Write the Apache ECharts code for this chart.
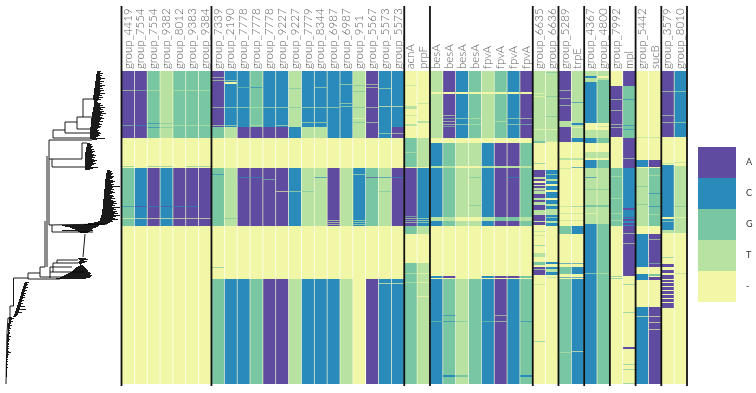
<!DOCTYPE html>
<html><head><meta charset="utf-8">
<style>html,body{margin:0;padding:0;background:#fff}#c{width:756px;height:393px;filter:blur(0.35px)}</style>
<script src="https://cdn.jsdelivr.net/npm/echarts@6/dist/echarts.min.js"></script>
</head><body><div id="c"></div>
<script>
// Legend and colours
const baseCodes = ['A','C','G','T','-'];
const baseColors = {A:'#5f4ca0',C:'#2a8bbb',G:'#79c6a3',T:'#b8e2a1','-':'#f1f7a6'};
const columnLabels = ['group_4419','group_7554','group_7554','group_9382','group_8012','group_9383','group_9384',
 'group_7339','group_2190','group_7778','group_7778','group_7778','group_9227','group_9227','group_7779','group_8344','group_6987','group_6987','group_951','group_5567','group_5573','group_5573',
 'acnA','prpF','besA','besA','besA','besA','fpvA','fpvA','fpvA','fpvA',
 'group_6635','group_6636','group_5289','trpE','group_4367','group_4800','group_7992','mpl','group_5442','sucB','group_3579','group_8010'];
// boundaries between gene groups, as number of columns to the left
const groupBoundaries = [0,7,22,24,32,34,36,38,40,42,44];
const rowCount = 313;

// Each column: runs of isolates [firstRow, lastRow, base]; later runs overlay earlier ones
const c_4419=[[0,67,'A'],[19,20,'T'],[54,55,'G'],[95,96,'G'],[97,155,'G'],[135,136,'C'],[147,148,'-']];
const c_7554a=[[0,67,'A'],[19,20,'G'],[54,55,'C'],[97,155,'C'],[135,136,'A'],[147,148,'-']];
const c_7554b=[[0,67,'G'],[19,20,'T'],[52,53,'C'],[56,57,'C'],[95,96,'G'],[97,155,'A'],[135,136,'C'],[147,148,'-']];
const c_9382=[[0,67,'T'],[52,53,'G'],[56,57,'G'],[95,96,'G'],[97,155,'C'],[135,136,'A'],[147,148,'-']];
const c_8012=[[0,67,'G'],[19,20,'T'],[54,55,'T'],[97,155,'A'],[135,136,'C'],[147,148,'-']];
const c_9383=[[0,67,'G'],[19,20,'T'],[54,55,'T'],[95,96,'G'],[97,155,'A'],[135,136,'C'],[147,148,'-']];
const c_9384=[[0,67,'G'],[19,20,'T'],[54,55,'T'],[95,96,'G'],[97,155,'A'],[147,148,'-']];

const c_7339=[[0,56,'A'],[6,7,'T'],[9,10,'T'],[36,37,'T'],[54,55,'T'],[56,67,'G'],[97,155,'G'],[103,104,'C'],[196,197,'G'],[208,313,'G']];
const c_2190=[[0,56,'C'],[11,13,'-'],[9,10,'T'],[36,37,'T'],[54,55,'T'],[56,67,'T'],[97,155,'T'],[147,148,'G'],[208,313,'C']];
const c_7778a=[[0,56,'C'],[16,17,'G'],[36,37,'T'],[56,67,'A'],[97,155,'A'],[106,107,'C'],[208,313,'C']];
const c_7778b=[[0,56,'G'],[16,17,'C'],[36,37,'T'],[54,55,'T'],[56,67,'A'],[97,155,'A'],[106,107,'C'],[208,313,'G']];
const c_7778c=[[0,56,'C'],[36,37,'T'],[56,67,'A'],[97,155,'A'],[108,109,'G'],[208,313,'A']];
const c_9227a=[[0,56,'C'],[36,37,'T'],[54,55,'T'],[56,67,'A'],[97,155,'A'],[120,121,'-'],[208,313,'A']];
const c_9227b=[[0,56,'T'],[17,18,'G'],[36,37,'G'],[56,67,'C'],[97,155,'C'],[120,121,'T'],[208,313,'T']];
const c_7779=[[0,56,'C'],[36,37,'T'],[51,52,'T'],[56,67,'T'],[97,155,'T'],[120,121,'G'],[208,313,'C']];
const c_8344=[[0,56,'C'],[16,17,'T'],[36,37,'T'],[51,52,'T'],[56,67,'T'],[97,155,'T'],[106,107,'C'],[208,313,'C']];
const c_6987a=[[0,56,'C'],[36,37,'T'],[56,67,'C'],[97,155,'A'],[149,150,'T'],[151,152,'T'],[153,154,'T'],[208,313,'C']];
const c_6987b=[[0,56,'C'],[13,14,'T'],[32,33,'T'],[35,36,'T'],[56,67,'C'],[97,155,'T'],[208,313,'T']];
const c_951=[[0,56,'T'],[14,15,'G'],[20,21,'G'],[36,37,'G'],[47,48,'-'],[51,52,'G'],[56,67,'T'],[97,155,'C'],[103,104,'T'],[149,150,'T'],[151,152,'T'],[153,154,'T']];
const c_5567=[[0,56,'A'],[13,14,'T'],[16,17,'T'],[36,37,'T'],[51,52,'T'],[56,67,'A'],[97,155,'G'],[106,107,'A'],[208,313,'A']];
const c_5573a=[[0,56,'C'],[17,18,'T'],[35,36,'-'],[56,67,'C'],[62,63,'T'],[97,155,'T'],[106,107,'C'],[120,121,'G'],[208,313,'C'],[212,213,'-']];
const c_5573b=[[0,56,'C'],[35,36,'-'],[56,67,'A'],[62,63,'T'],[97,155,'A'],[106,107,'C'],[208,313,'C'],[212,213,'-']];

const c_acnA=[[14,15,'T'],[35,38,'T'],[44,45,'T'],[53,55,'T'],[67,96,'G'],[81,82,'T'],[97,155,'A'],[145,146,'G'],[147,148,'T'],[149,150,'G'],[151,152,'T'],[155,163,'G'],[192,313,'G'],[202,203,'T'],[211,212,'T']];
const c_prpF=[[32,33,'T'],[50,52,'T'],[67,96,'T'],[97,155,'C'],[147,148,'T'],[149,150,'T'],[151,152,'T'],[155,163,'T'],[192,313,'T'],[202,203,'-'],[211,212,'-'],[225,226,'-']];
const c_besAa=[[0,67,'T'],[21,23,'-'],[72,95,'C'],[95,97,'T'],[97,146,'C'],[146,150,'T'],[150,155,'C'],[205,207,'C'],[208,313,'C'],[250,251,'G']];
const c_besAb=[[0,67,'A'],[21,23,'-'],[44,45,'T'],[47,48,'G'],[50,51,'T'],[53,54,'T'],[55,56,'G'],[72,95,'G'],[95,97,'T'],[97,146,'G'],[146,150,'T'],[150,155,'G'],[205,207,'A'],[208,313,'G'],[244,245,'C'],[250,251,'C'],[304,306,'C']];
const c_besAc=[[0,67,'C'],[21,23,'-'],[47,48,'T'],[53,54,'T'],[72,95,'T'],[95,97,'-'],[97,146,'T'],[150,155,'T'],[208,313,'T'],[250,251,'G'],[304,306,'G']];
const c_besAd=[[0,67,'G'],[21,23,'-'],[47,48,'T'],[53,54,'T'],[72,95,'T'],[95,97,'-'],[97,146,'T'],[106,107,'G'],[134,135,'G'],[150,155,'T'],[208,313,'G']];
const c_fpvAa=[[0,67,'T'],[21,23,'-'],[72,95,'C'],[95,97,'T'],[97,146,'C'],[146,150,'T'],[150,155,'C'],[205,207,'C'],[208,313,'C'],[250,251,'G']];
const c_fpvAb=[[0,67,'G'],[21,23,'-'],[50,51,'T'],[72,95,'A'],[95,97,'T'],[97,146,'A'],[146,150,'G'],[150,155,'A'],[205,207,'A'],[208,313,'A'],[244,245,'T'],[250,251,'T']];
const c_fpvAc=[[0,67,'C'],[21,23,'-'],[47,48,'T'],[53,54,'T'],[72,95,'A'],[95,97,'T'],[97,146,'A'],[106,107,'C'],[146,150,'G'],[150,155,'A'],[205,207,'A'],[208,313,'C']];
const c_fpvAd=[[0,67,'A'],[21,23,'-'],[47,48,'T'],[53,54,'G'],[72,95,'G'],[95,97,'T'],[97,146,'G'],[146,150,'T'],[150,155,'G'],[205,207,'G'],[208,313,'G'],[250,251,'C'],[304,306,'C']];

const c_6635=[[0,70,'T'],[22,23,'-'],[25,26,'-'],[58,59,'-'],[70,72,'G'],[92,93,'G'],[99,106,'A'],[106,108,'T'],[108,110,'A'],[112,114,'A'],[114,115,'T'],[115,117,'A'],[117,119,'T'],[119,120,'A'],[120,123,'T'],[123,127,'A'],[127,129,'T'],[129,131,'A'],[131,134,'T'],[134,139,'A'],[139,144,'T'],[144,150,'A'],[150,151,'T'],[151,154,'A'],[160,161,'T'],[164,165,'T'],[174,175,'G'],[182,186,'T'],[191,194,'G'],[196,204,'A'],[198,199,'T'],[213,214,'T'],[270,271,'G']];
const c_6636=[[0,70,'T'],[1,2,'G'],[25,26,'G'],[45,46,'G'],[58,59,'-'],[70,71,'T'],[99,108,'C'],[103,104,'T'],[108,110,'T'],[110,113,'C'],[113,115,'-'],[115,119,'C'],[119,121,'-'],[121,127,'C'],[127,129,'-'],[129,133,'C'],[133,135,'T'],[135,138,'C'],[138,144,'T'],[144,150,'C'],[146,147,'T'],[150,152,'T'],[152,155,'C'],[191,193,'C'],[196,198,'C'],[198,201,'T'],[201,204,'C'],[206,207,'T']];
const c_5289=[[0,71,'A'],[19,20,'T'],[27,28,'T'],[34,35,'T'],[50,56,'T'],[87,89,'T'],[97,98,'T'],[135,136,'T'],[142,143,'T'],[149,150,'T'],[155,163,'G'],[192,193,'C'],[196,203,'G'],[206,207,'C'],[208,313,'G'],[281,282,'T']];
const c_trpE=[[0,67,'T'],[31,32,'C'],[52,54,'C'],[56,57,'-'],[67,71,'C'],[87,89,'T'],[96,97,'C'],[135,136,'G'],[142,143,'T'],[149,150,'T'],[155,163,'C'],[192,193,'C'],[196,203,'C'],[206,207,'C'],[208,313,'C'],[280,281,'-']];
const c_4367=[[0,5,'T'],[5,7,'C'],[7,11,'T'],[11,52,'C'],[59,67,'T'],[67,72,'C'],[81,87,'T'],[89,97,'C'],[97,153,'T'],[106,107,'C'],[118,119,'G'],[134,136,'G'],[142,143,'-'],[153,313,'C'],[202,203,'T']];
const c_4800=[[0,5,'T'],[5,7,'-'],[7,9,'T'],[9,11,'G'],[11,52,'G'],[55,56,'T'],[59,67,'T'],[67,72,'G'],[81,87,'T'],[89,97,'G'],[97,140,'T'],[118,119,'G'],[134,136,'G'],[140,153,'T'],[153,313,'G'],[202,203,'T']];
const c_7992=[[15,66,'A'],[28,29,'T'],[39,40,'T'],[53,54,'T'],[56,57,'T'],[97,155,'G'],[105,106,'T'],[127,128,'T'],[142,143,'T'],[149,150,'T'],[205,206,'G'],[207,208,'G']];
const c_mpl=[[0,15,'A'],[15,67,'G'],[28,29,'C'],[54,55,'C'],[58,59,'C'],[67,97,'A'],[87,88,'T'],[97,155,'C'],[137,139,'A'],[146,147,'A'],[148,150,'A'],[152,154,'A'],[155,205,'A'],[162,163,'T'],[172,173,'T'],[213,214,'G'],[241,242,'G'],[276,278,'A'],[293,294,'G'],[298,299,'G'],[312,313,'G']];
const c_5442=[[66,67,'T'],[89,96,'C'],[97,155,'T'],[115,116,'G'],[133,134,'G'],[163,196,'C'],[203,209,'C'],[236,313,'C'],[245,246,'-']];
const c_sucB=[[66,67,'T'],[89,96,'A'],[97,155,'G'],[104,105,'T'],[122,123,'C'],[135,136,'C'],[143,144,'T'],[163,196,'A'],[168,169,'T'],[192,193,'G'],[203,205,'G'],[206,209,'A'],[236,313,'A'],[245,246,'-'],[251,252,'-'],[258,259,'-']];
const c_3579=[[0,66,'A'],[20,21,'T'],[44,45,'T'],[51,52,'T'],[92,93,'T'],[94,162,'C'],[146,148,'-'],[150,151,'T'],[159,162,'T'],[186,187,'G'],[193,196,'A'],[199,202,'A'],[204,208,'A'],[209,211,'A'],[212,215,'A'],[216,219,'A'],[220,223,'A'],[224,227,'A'],[228,231,'A'],[232,237,'A']];
const c_8010=[[0,66,'C'],[20,21,'T'],[51,52,'T'],[91,92,'T'],[95,162,'T'],[135,136,'G'],[146,147,'-'],[202,203,'T']];

const columns=[c_4419,c_7554a,c_7554b,c_9382,c_8012,c_9383,c_9384,c_7339,c_2190,c_7778a,c_7778b,c_7778c,c_9227a,c_9227b,c_7779,c_8344,c_6987a,c_6987b,c_951,c_5567,c_5573a,c_5573b,c_acnA,c_prpF,c_besAa,c_besAb,c_besAc,c_besAd,c_fpvAa,c_fpvAb,c_fpvAc,c_fpvAd,c_6635,c_6636,c_5289,c_trpE,c_4367,c_4800,c_7992,c_mpl,c_5442,c_sucB,c_3579,c_8010];

// Tree: branches [depth0,row0,depth1,row1]
const treeBranches=[[6,313,6.5,285],[6.5,285,7,262],[7,262,8,247],[8,247,10,247],[10,235,10,247],[10,235,13.5,235],[13.5,207,13.5,235],[13.5,207,28,207],[28,202,28,208],[28,202,40,202],[28,208,60,208],
[40,196,40,206],[40,196,45,196],[40,206,62,206],[45,150,45,196],[47,85,47,196],[49,69,49,154],[49,69,92,69],[53,59,53,67],[53,59,65,59],[53,67,90,67],[65,51,65,62],[65,51,77,51],[65,62,90,62],[77,46,77,58],[77,46,83,46],[77,58,90,58],[83,28,83,46],[83,28,93,28],[83,46,92,46],
[49,88,82,88],[52,88,52,96],[52,96,85,96],[82,72,82,88],[82,72,87,72],[49,154,107,153],[52,154,52,161],[52,161,93,161],[85,163,83,186],[57,189,57,192],[57,189,78,189],[53,192,78,192],[53,192,53,201],[50,201,85,201],[50,196,50,207],[50,196,72,196]];
const topCladeFrom=[97,97,97,96,96,96,96,96,96,96,95,95,95,95,95,95,95,94,94,94,94,94,94,94,93,93,93,93,93,94,94,94,94,94,94,94,93,93,93,93,93,92,92,92,92,92,92,91,91,91,91,91,91,91,91,91,90,90,90,90,90,90,90,90,90,90,90,90,92];
const topCladeTo=[101,100,103,100,102,100,101,105,101,100,104,100,102,100,105,102,100,103,100,104,101,100,105,100,102,99,103,99,101,98,97,98,101,100,103,100,105,101,103,100,104,102,106,101,103,100,102,104,101,100,103,99,100,102,99,101,100,98,97,99,98,100,101,99,100,98,96,105,97];
const midCladeFrom=[87,87,87,87,86,86,86,86,86,85,85,85,85,85,85,85,85,85,85,85,85,85,85,85,85,85,85];
const midCladeTo=[90,92,91,93,92,91,94,92,95,93,92,94,96,93,95,92,94,97,95,93,96,94,92,91,98,93,90];
const thirdCladeFrom=[107,107,107,106,106,106,106,106,106,105,105,105,105,105,105,105,105,105,105,104,104,104,104,104,104,104,104,104,104,103,103,103,103,103,103,103,103,103,103,102,102,102,102,102,102,101,101,101,100,100,100,98,94,88,84,62,65,70,72,75,62,78,80];
const thirdCladeTo=[110,112,111,113,112,111,114,113,112,110,113,115,113,111,114,112,120,113,112,114,111,113,115,112,110,113,114,112,115,111,113,116,114,117,113,115,112,120,114,116,113,117,115,118,114,120,116,113,115,118,112,113,110,108,105,99,98,96,93,92,93,90,88];
const lowCladeFrom=[78,79,80,79,78,79,80,80,78,76,75,74,73,72,70,68,66,64,62,60,56];
const lowCladeTo=[86,88,84,87,85,82,81,83,84,85,86,87,88,88,90,91,90,92,91,90,86];
const wedgeFrom=[25,24,24,24,23,23,23,22,22,22,21,21,21,21,20,20,20,19,19,19,18,18,18,17,17,17,16,16,16,15,15,15,14,14,13];
const wedgeTo=[29,27,28,27,26,28,26,25,27,25,24,26,24,25,23,25,23,22,24,22,21,23,21,21,25,20,20,26,19,19,22,18,18,17,16];
const stemFrom=[9,9,9,9,9,9,8,8,8,8,8,8,8,8,8,8,8,7,7,7,7,7,7,7,7,7,7,7,7,7,7,7,7,7,7,7,7,7,7,7,6,6,6,6,6,6,6,6,6,6,6,6,6,6,6,6,6,6,6,6];
const stemTo=[12,14,12,11,13,11,11,10,12,10,10,11,9,10,9,10,10,9,9,11,9,9,10,9,9,8,9,9,8,9,8,9,8,8,9,11,8,9,8,8,8,7,8,7,8,7,7,8,7,7,8,7,7,7,7,7,7,7,7,7];
const cladeStarts={top:0,mid:72,third:99,low:187,wedge:211,stem:246};

// assemble
const cellData=[];
columns.forEach((runs,ci)=>{cellData.push([ci,0,rowCount,4]);runs.forEach(r=>cellData.push([ci,r[0],r[1],baseCodes.indexOf(r[2])]));});
const treeData=treeBranches.slice();
[[topCladeFrom,topCladeTo,cladeStarts.top],[midCladeFrom,midCladeTo,cladeStarts.mid],[thirdCladeFrom,thirdCladeTo,cladeStarts.third],[lowCladeFrom,lowCladeTo,cladeStarts.low],[wedgeFrom,wedgeTo,cladeStarts.wedge],[stemFrom,stemTo,cladeStarts.stem]].forEach(([f,t,s])=>f.forEach((v,i)=>treeData.push([v,s+i+0.5,t[i],s+i+0.5])));

const chart=echarts.init(document.getElementById('c'),null,{renderer:'canvas'});
chart.setOption({
 animation:false,backgroundColor:'#fff',
 grid:[{left:121.5,top:71,width:565.5,height:313},{left:0,top:71,width:121,height:313},{left:698,top:147,width:38,height:155}],
 xAxis:[
  {type:'category',gridIndex:0,position:'top',data:columnLabels,axisLine:{show:false},axisTick:{show:false},splitLine:{show:false},
   axisLabel:{interval:0,rotate:90,margin:2,fontFamily:'Lato',fontSize:11.5,fontWeight:300,color:'#5a5a5a'}},
  {type:'value',gridIndex:1,min:0,max:121,show:false},
  {type:'value',gridIndex:2,min:0,max:1,show:false}
 ],
 yAxis:[
  {type:'value',gridIndex:0,min:0,max:rowCount,inverse:true,show:false},
  {type:'value',gridIndex:1,min:0,max:rowCount,inverse:true,show:false},
  {type:'category',gridIndex:2,inverse:true,position:'right',data:baseCodes,axisLine:{show:false},axisTick:{show:false},
   axisLabel:{margin:10,fontFamily:'Lato',fontSize:9,color:'#333'}}
 ],
 series:[
  {type:'custom',xAxisIndex:0,yAxisIndex:0,clip:false,silent:true,data:cellData,encode:{x:0,y:1},
   renderItem(p,api){
    const a=api.coord([api.value(0),api.value(1)]),b=api.coord([api.value(0),api.value(2)]);
    const w=api.size([1,0])[0],thin=api.value(2)-api.value(1)<=1;
    return {type:'rect',shape:{x:a[0]-w/2+0.35,y:a[1],width:w-0.7,height:b[1]-a[1]},style:{fill:baseColors[baseCodes[api.value(3)]],opacity:thin?0.65:1}};
   }},
  {type:'custom',xAxisIndex:0,yAxisIndex:0,clip:false,silent:true,z:5,data:groupBoundaries.map(b=>[b,-65,rowCount+2]),encode:{x:0,y:1},
   renderItem(p,api){
    const w=api.size([1,0])[0],x0=api.coord([0,0])[0]-w/2+api.value(0)*w;
    const top=api.coord([0,api.value(1)])[1],bot=api.coord([0,api.value(2)])[1];
    return {type:'line',shape:{x1:x0,y1:top,x2:x0,y2:bot},style:{stroke:'#111',lineWidth:1.8}};
   }},
  {type:'custom',xAxisIndex:1,yAxisIndex:1,clip:false,silent:true,data:treeData,encode:{x:[0,2],y:[1,3]},
   renderItem(p,api){
    const a=api.coord([api.value(0),api.value(1)]),b=api.coord([api.value(2),api.value(3)]);
    return {type:'line',shape:{x1:a[0],y1:a[1],x2:b[0],y2:b[1]},style:{stroke:'#000',lineWidth:0.9}};
   }},
  {type:'bar',xAxisIndex:2,yAxisIndex:2,silent:true,barCategoryGap:0,data:baseCodes.map(c=>({value:1,itemStyle:{color:baseColors[c]}}))}
 ]
});
</script></body></html>
